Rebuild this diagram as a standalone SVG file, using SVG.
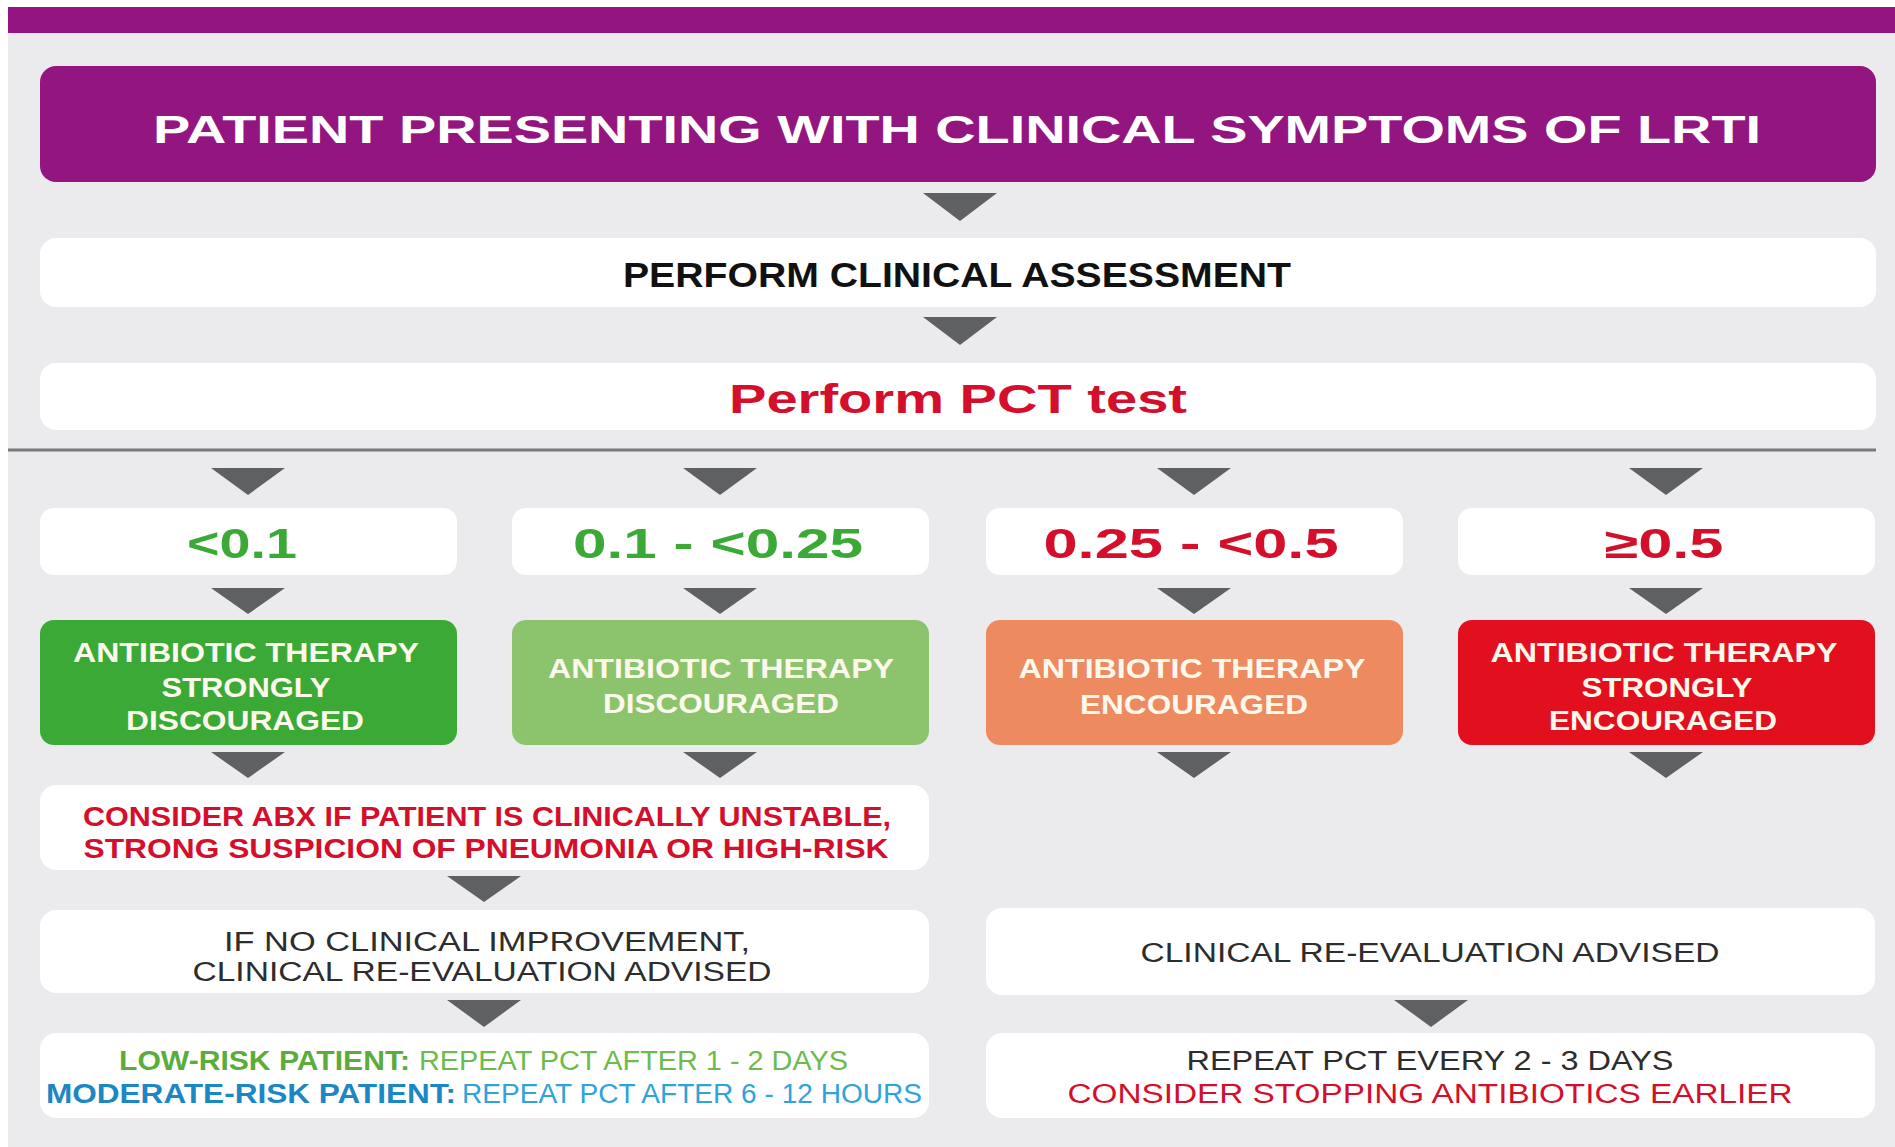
<svg xmlns="http://www.w3.org/2000/svg" width="1895" height="1147" viewBox="0 0 1895 1147">
<style>
text{font-family:"Liberation Sans",Arial,sans-serif;text-anchor:middle}
.b{font-weight:700}
.r{font-weight:400}
.box{fill:#ffffff}
.arr{fill:#5f6062}
.wt{fill:#fdf8ec;font-weight:700;font-size:28px}
.red{fill:#d30f2b}
.grn{fill:#3aa935}
.dk{fill:#2d2d2d}
</style>
<rect x="0" y="0" width="1895" height="1147" fill="#ffffff"/>
<rect x="8" y="7" width="1887" height="1140" fill="#ebebed"/>
<rect x="8" y="7" width="1887" height="26" fill="#93157f"/>
<g id="connectors">
<path class="arr" d="M923 193 L997 193 L960 221 Z"/>
<path class="arr" d="M923 317 L997 317 L960 345 Z"/>
<line x1="8" y1="450" x2="1876" y2="450" stroke="#7a7a7c" stroke-width="3"/>
<path class="arr" d="M211 468 L285 468 L248 495 Z"/>
<path class="arr" d="M683 468 L757 468 L720 495 Z"/>
<path class="arr" d="M1157 468 L1231 468 L1194 495 Z"/>
<path class="arr" d="M1629 468 L1703 468 L1666 495 Z"/>
<path class="arr" d="M211 588 L285 588 L248 614 Z"/>
<path class="arr" d="M683 588 L757 588 L720 614 Z"/>
<path class="arr" d="M1157 588 L1231 588 L1194 614 Z"/>
<path class="arr" d="M1629 588 L1703 588 L1666 614 Z"/>
<path class="arr" d="M211 752 L285 752 L248 778 Z"/>
<path class="arr" d="M683 752 L757 752 L720 778 Z"/>
<path class="arr" d="M1157 752 L1231 752 L1194 778 Z"/>
<path class="arr" d="M1629 752 L1703 752 L1666 778 Z"/>
<path class="arr" d="M447 876 L521 876 L484 902 Z"/>
<path class="arr" d="M447 1000 L521 1000 L484 1027 Z"/>
<path class="arr" d="M1394 1000 L1468 1000 L1431 1027 Z"/>
</g>
<g id="header">
<rect x="40" y="66" width="1836" height="116" rx="16" fill="#93157f"/>
<text class="b" x="957" y="143" font-size="39" fill="#ffffff" textLength="1608" lengthAdjust="spacingAndGlyphs">PATIENT PRESENTING WITH CLINICAL SYMPTOMS OF LRTI</text>
</g>
<g id="assessment">
<rect class="box" x="40" y="238" width="1836" height="69" rx="16"/>
<text class="b" x="957" y="287" font-size="35" fill="#111111" textLength="668" lengthAdjust="spacingAndGlyphs">PERFORM CLINICAL ASSESSMENT</text>
</g>
<g id="pct">
<rect class="box" x="40" y="363" width="1836" height="67" rx="16"/>
<text class="b red" x="958" y="413" font-size="41" textLength="458" lengthAdjust="spacingAndGlyphs">Perform PCT test</text>
</g>
<g id="v1">
<rect class="box" x="40" y="508" width="417" height="67" rx="14"/>
<text class="b grn" x="242" y="558" font-size="42" textLength="110" lengthAdjust="spacingAndGlyphs">&lt;0.1</text>
</g>
<g id="v2">
<rect class="box" x="512" y="508" width="417" height="67" rx="14"/>
<text class="b grn" x="718" y="558" font-size="42" textLength="290" lengthAdjust="spacingAndGlyphs">0.1 - &lt;0.25</text>
</g>
<g id="v3">
<rect class="box" x="986" y="508" width="417" height="67" rx="14"/>
<text class="b red" x="1191" y="558" font-size="42" textLength="295" lengthAdjust="spacingAndGlyphs">0.25 - &lt;0.5</text>
</g>
<g id="v4">
<rect class="box" x="1458" y="508" width="417" height="67" rx="14"/>
<text class="b red" x="1664" y="558" font-size="42" textLength="119" lengthAdjust="spacingAndGlyphs">≥0.5</text>
</g>
<g id="t1">
<rect x="40" y="620" width="417" height="125" rx="14" fill="#3aa935"/>
<text class="wt" x="246" y="662" textLength="346" lengthAdjust="spacingAndGlyphs">ANTIBIOTIC THERAPY</text>
<text class="wt" x="246" y="697" textLength="169" lengthAdjust="spacingAndGlyphs">STRONGLY</text>
<text class="wt" x="245" y="730" textLength="238" lengthAdjust="spacingAndGlyphs">DISCOURAGED</text>
</g>
<g id="t2">
<rect x="512" y="620" width="417" height="125" rx="14" fill="#8cc36d"/>
<text class="wt" x="721" y="678" textLength="346" lengthAdjust="spacingAndGlyphs">ANTIBIOTIC THERAPY</text>
<text class="wt" x="721" y="713" textLength="236" lengthAdjust="spacingAndGlyphs">DISCOURAGED</text>
</g>
<g id="t3">
<rect x="986" y="620" width="417" height="125" rx="14" fill="#ee8a5f"/>
<text class="wt" x="1192" y="678" textLength="347" lengthAdjust="spacingAndGlyphs">ANTIBIOTIC THERAPY</text>
<text class="wt" x="1194" y="714" textLength="228" lengthAdjust="spacingAndGlyphs">ENCOURAGED</text>
</g>
<g id="t4">
<rect x="1458" y="620" width="417" height="125" rx="14" fill="#e2101e"/>
<text class="wt" x="1664" y="662" textLength="347" lengthAdjust="spacingAndGlyphs">ANTIBIOTIC THERAPY</text>
<text class="wt" x="1667" y="697" textLength="171" lengthAdjust="spacingAndGlyphs">STRONGLY</text>
<text class="wt" x="1663" y="730" textLength="228" lengthAdjust="spacingAndGlyphs">ENCOURAGED</text>
</g>
<g id="consider">
<rect class="box" x="40" y="785" width="889" height="85" rx="16"/>
<text class="b red" x="487" y="826" font-size="28" textLength="808" lengthAdjust="spacingAndGlyphs">CONSIDER ABX IF PATIENT IS CLINICALLY UNSTABLE,</text>
<text class="b red" x="486" y="858" font-size="28" textLength="805" lengthAdjust="spacingAndGlyphs">STRONG SUSPICION OF PNEUMONIA OR HIGH-RISK</text>
</g>
<g id="noimprove">
<rect class="box" x="40" y="910" width="889" height="83" rx="16"/>
<text class="r dk" x="487" y="951" font-size="27" textLength="526" lengthAdjust="spacingAndGlyphs">IF NO CLINICAL IMPROVEMENT,</text>
<text class="r dk" x="482" y="981" font-size="27" textLength="579" lengthAdjust="spacingAndGlyphs">CLINICAL RE-EVALUATION ADVISED</text>
</g>
<g id="repeatleft">
<rect class="box" x="40" y="1033" width="889" height="85" rx="16"/>
<text class="b" x="119" y="1070" font-size="27" fill="#5aad3c" style="text-anchor:start" textLength="291" lengthAdjust="spacingAndGlyphs">LOW-RISK PATIENT:</text>
<text class="r" x="419" y="1070" font-size="27" fill="#6cbb4c" style="text-anchor:start" textLength="429" lengthAdjust="spacingAndGlyphs">REPEAT PCT AFTER 1 - 2 DAYS</text>
<text class="b" x="46" y="1103" font-size="27" fill="#1b87c4" style="text-anchor:start" textLength="410" lengthAdjust="spacingAndGlyphs">MODERATE-RISK PATIENT:</text>
<text class="r" x="462" y="1103" font-size="27" fill="#2ea3dc" style="text-anchor:start" textLength="460" lengthAdjust="spacingAndGlyphs">REPEAT PCT AFTER 6 - 12 HOURS</text>
</g>
<g id="reeval">
<rect class="box" x="986" y="908" width="889" height="87" rx="16"/>
<text class="r dk" x="1430" y="962" font-size="27" textLength="579" lengthAdjust="spacingAndGlyphs">CLINICAL RE-EVALUATION ADVISED</text>
</g>
<g id="repeatright">
<rect class="box" x="986" y="1033" width="889" height="85" rx="16"/>
<text class="r dk" x="1430" y="1070" font-size="27" textLength="487" lengthAdjust="spacingAndGlyphs">REPEAT PCT EVERY 2 - 3 DAYS</text>
<text class="r red" x="1430" y="1103" font-size="27" textLength="725" lengthAdjust="spacingAndGlyphs">CONSIDER STOPPING ANTIBIOTICS EARLIER</text>
</g>
</svg>
